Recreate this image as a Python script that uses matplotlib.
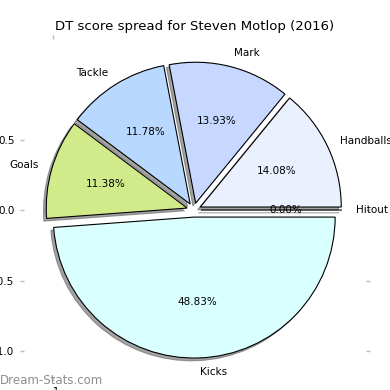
import matplotlib
matplotlib.use('Agg')
import matplotlib.pyplot as plt

# DT score share per stat (percent), counterclockwise from 0 degrees
labels = ['Handballs', 'Mark', 'Tackle', 'Goals', 'Kicks', 'Hitout']
shares = [14.08, 13.93, 11.78, 11.38, 48.83, 0.00]
colors = ['#ebf0ff', '#c6d8ff', '#b8d8ff', '#d1ea8a', '#d9ffff', '#ffffff']
explode = [0.05] * len(shares)

fig = plt.figure(figsize=(3.9, 3.9), dpi=100)
ax = fig.add_axes([0.0513, 0.023, 0.897, 0.887])

wedges, texts, autotexts = ax.pie(
    shares,
    labels=labels,
    colors=colors,
    explode=explode,
    autopct='%.2f%%',
    startangle=0,
    shadow={'ox': -0.014, 'oy': -0.014, 'facecolor': '0.4', 'edgecolor': '0.4', 'alpha': 0.6},
    wedgeprops={'edgecolor': 'black', 'linewidth': 0.8},
    textprops={'fontsize': 7.5},
    frame=True,
)

ax.set_xlim(-1.234, 1.248)
ax.set_ylim(-1.213, 1.241)
ax.set_aspect('auto')

# leftover ticks from the old-style pie axes
ax.set_xticks([-1.0])
ax.set_yticks([-1.0, -0.5, 0.0, 0.5])
ax.tick_params(direction='in', length=3, width=1, color='#bbbbbb',
               top=True, right=True, labelsize=7.5, pad=4)
for s in ax.spines.values():
    s.set_visible(False)

ax.set_title('DT score spread for Steven Motlop (2016)', fontsize=9.5, pad=3.5)

fig.text(0.0, 0.016, 'Dream-Stats.com', fontsize=8.5, color='gray', alpha=0.9)

plt.savefig('out.png', dpi=100)
